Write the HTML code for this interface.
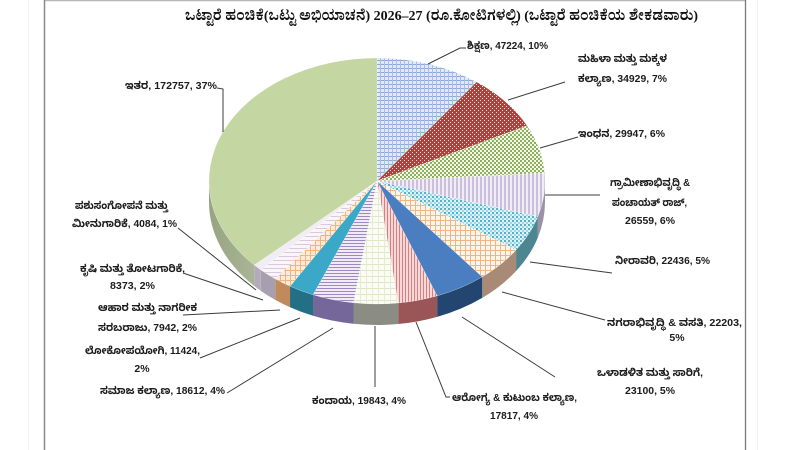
<!DOCTYPE html>
<html>
<head>
<meta charset="utf-8">
<style>
html,body{margin:0;padding:0;background:#ffffff;}
svg{display:block;}
.lbl{font-family:"Liberation Sans","Noto Sans Kannada","Lohit Kannada","Tunga","DejaVu Sans",sans-serif;font-weight:bold;font-size:10.5px;fill:#1c1c1c;}
.ttl{font-family:"Liberation Serif","Noto Serif Kannada","Noto Sans Kannada","Lohit Kannada","Tunga",serif;font-weight:bold;font-size:14px;fill:#111;}
.ld{fill:none;stroke:#3c3c3c;stroke-width:1;}
</style>
</head>
<body>
<svg width="800" height="450" viewBox="0 0 800 450" xmlns="http://www.w3.org/2000/svg">
<defs>
<pattern id="pEdu" patternUnits="userSpaceOnUse" width="4" height="4"><rect width="4" height="4" fill="#e2e9f5"/><rect width="4" height="1" fill="#8ea9d6"/><rect width="1" height="4" fill="#a9bde0"/></pattern>
<pattern id="pWom" patternUnits="userSpaceOnUse" width="4" height="4"><rect width="4" height="4" fill="#b4403d"/><rect x="0" y="0" width="1" height="1" fill="#f2d6d4"/><rect x="2" y="2" width="1" height="1" fill="#f2d6d4"/></pattern>
<pattern id="pEne" patternUnits="userSpaceOnUse" width="4" height="4"><rect width="4" height="4" fill="#f4f8ec"/><rect width="2" height="2" fill="#8fb05a"/><rect x="2" y="2" width="2" height="2" fill="#8fb05a"/></pattern>
<pattern id="pRur" patternUnits="userSpaceOnUse" width="4" height="4"><rect width="4" height="4" fill="#f1edf6"/><rect width="2" height="4" fill="#cbbfdc"/></pattern>
<pattern id="pIrr" patternUnits="userSpaceOnUse" width="4" height="4"><rect width="4" height="4" fill="#dff2f6"/><rect width="2" height="2" fill="#52b2cb"/><rect x="2" y="2" width="2" height="2" fill="#9fd6e4"/></pattern>
<pattern id="pUrb" patternUnits="userSpaceOnUse" width="5" height="5"><rect width="5" height="5" fill="#fdf4ea"/><rect width="5" height="1" fill="#eeb586"/><rect width="1" height="5" fill="#eeb586"/></pattern>
<pattern id="pHea" patternUnits="userSpaceOnUse" width="3" height="3"><rect width="3" height="3" fill="#f6d9d9"/><rect width="1" height="3" fill="#d97e7e"/></pattern>
<pattern id="pRev" patternUnits="userSpaceOnUse" width="6" height="6"><rect width="6" height="6" fill="#fbfcf4"/><rect width="6" height="1" fill="#dde5c6"/><rect width="1" height="6" fill="#e6ecd4"/></pattern>
<pattern id="pSoc" patternUnits="userSpaceOnUse" width="3" height="3"><rect width="3" height="3" fill="#f0ebf6"/><rect width="3" height="1" fill="#9d88c0"/></pattern>
<pattern id="pFoo" patternUnits="userSpaceOnUse" width="5" height="5"><rect width="5" height="5" fill="#fcecd9"/><rect width="5" height="1" fill="#f3b57c"/><rect width="1" height="5" fill="#f3b57c"/></pattern>
<pattern id="pAgr" patternUnits="userSpaceOnUse" width="4" height="4"><rect width="4" height="4" fill="#faf6f8"/><rect width="4" height="1" fill="#d9c9dc"/></pattern>
<linearGradient id="gOth" x1="0" y1="0" x2="1" y2="0">
<stop offset="0" stop-color="#97a483"/><stop offset="1" stop-color="#a9b594"/>
</linearGradient>
</defs>

<!-- frame -->
<rect x="0" y="0" width="800" height="450" fill="#ffffff"/>
<line x1="28.5" y1="0" x2="28.5" y2="450" stroke="#f3f3f3" stroke-width="1"/>
<line x1="757.5" y1="0" x2="757.5" y2="450" stroke="#f3f3f3" stroke-width="1"/>
<line x1="44" y1="0.6" x2="746" y2="0.6" stroke="#b8b8b8" stroke-width="1.2"/>
<line x1="44.5" y1="0" x2="44.5" y2="450" stroke="#8a8a8a" stroke-width="1.5"/>
<line x1="745.5" y1="0" x2="745.5" y2="450" stroke="#7a7a7a" stroke-width="1.3"/>

<!-- title -->
<text class="ttl" x="185" y="20" textLength="513" lengthAdjust="spacingAndGlyphs">ಒಟ್ಟಾರೆ ಹಂಚಿಕೆ(ಒಟ್ಟು ಅಭಿಯಾಚನೆ) 2026–27 (ರೂ.ಕೋಟಿಗಳಲ್ಲಿ)  (ಒಟ್ಟಾರೆ ಹಂಚಿಕೆಯ ಶೇಕಡವಾರು)</text>

<!-- sides -->
<g>
<path d="M545,181 A168,123 0 0 1 537.81,216.61 L537.81,237.61 A168,123 0 0 0 545,202 Z" fill="#9a92a8"/>
<path d="M537.81,216.61 A168,123 0 0 1 516.07,250 L516.07,271 A168,123 0 0 0 537.81,237.61 Z" fill="#4d8690"/>
<path d="M516.07,250 A168,123 0 0 1 482.2,276.9 L482.2,297.9 A168,123 0 0 0 516.07,271 Z" fill="#a88a76"/>
<path d="M482.2,276.9 A168,123 0 0 1 437.14,295.85 L437.14,316.85 A168,123 0 0 0 482.2,297.9 Z" fill="#22466f"/>
<path d="M437.14,295.85 A168,123 0 0 1 398.2,303.02 L398.2,324.02 A168,123 0 0 0 437.14,316.85 Z" fill="#9a5656"/>
<path d="M398.2,303.02 A168,123 0 0 1 353.5,302.79 L353.5,323.79 A168,123 0 0 0 398.2,324.02 Z" fill="#8b8c84"/>
<path d="M353.5,302.79 A168,123 0 0 1 313.04,294.74 L313.04,315.74 A168,123 0 0 0 353.5,323.79 Z" fill="#75679a"/>
<path d="M313.04,294.74 A168,123 0 0 1 290.03,286.24 L290.03,307.24 A168,123 0 0 0 313.04,315.74 Z" fill="#226f86"/>
<path d="M290.03,286.24 A168,123 0 0 1 275.19,278.85 L275.19,299.85 A168,123 0 0 0 290.03,307.24 Z" fill="#c08a5c"/>
<path d="M275.19,278.85 A168,123 0 0 1 260.83,269.86 L260.83,290.86 A168,123 0 0 0 275.19,299.85 Z" fill="#a79fb0"/>
<path d="M260.83,269.86 A168,123 0 0 1 254.33,265.05 L254.33,286.05 A168,123 0 0 0 260.83,290.86 Z" fill="#b3abbb"/>
<path d="M254.33,265.05 A168,123 0 0 1 209,181 L209,202 A168,123 0 0 0 254.33,286.05 Z" fill="url(#gOth)"/>
</g>

<!-- top faces -->
<g stroke="#ffffff" stroke-width="0.4" stroke-opacity="0.6">
<path d="M377,181 L377,58 A168,123 0 0 1 476.64,81.97 Z" fill="url(#pEdu)"/>
<path d="M377,181 L476.64,81.97 A168,123 0 0 1 527.09,125.74 Z" fill="url(#pWom)"/>
<path d="M377,181 L527.09,125.74 A168,123 0 0 1 544.66,173.21 Z" fill="url(#pEne)"/>
<path d="M377,181 L544.66,173.21 A168,123 0 0 1 537.81,216.61 Z" fill="url(#pRur)"/>
<path d="M377,181 L537.81,216.61 A168,123 0 0 1 516.07,250 Z" fill="url(#pIrr)"/>
<path d="M377,181 L516.07,250 A168,123 0 0 1 482.2,276.9 Z" fill="url(#pUrb)"/>
<path d="M377,181 L482.2,276.9 A168,123 0 0 1 437.14,295.85 Z" fill="#4a7ec0"/>
<path d="M377,181 L437.14,295.85 A168,123 0 0 1 398.2,303.02 Z" fill="url(#pHea)"/>
<path d="M377,181 L398.2,303.02 A168,123 0 0 1 353.5,302.79 Z" fill="url(#pRev)"/>
<path d="M377,181 L353.5,302.79 A168,123 0 0 1 313.04,294.74 Z" fill="url(#pSoc)"/>
<path d="M377,181 L313.04,294.74 A168,123 0 0 1 290.03,286.24 Z" fill="#3aa8c6"/>
<path d="M377,181 L290.03,286.24 A168,123 0 0 1 275.19,278.85 Z" fill="url(#pFoo)"/>
<path d="M377,181 L275.19,278.85 A168,123 0 0 1 260.83,269.86 Z" fill="url(#pAgr)"/>
<path d="M377,181 L260.83,269.86 A168,123 0 0 1 254.33,265.05 Z" fill="#f1edf4"/>
<path d="M377,181 L254.33,265.05 A168,123 0 0 1 377,58 Z" fill="#c4d6a2"/>
</g>

<!-- leader lines -->
<g class="ld">
<polyline points="428,64 460,48 466,48"/>
<polyline points="508,100 565,82"/>
<polyline points="540,148 578,137"/>
<polyline points="545,195 600,195"/>
<polyline points="530,262 612,273"/>
<polyline points="502,292 605,320"/>
<polyline points="462,317 555,377"/>
<polyline points="416,322 446,397 450,397"/>
<polyline points="375,326 375,387"/>
<polyline points="333,328 227,393"/>
<polyline points="300,318 200,358"/>
<polyline points="280,310 183,315"/>
<polyline points="263,300 183,273"/>
<polyline points="256,290 178,228"/>
<polyline points="217,88 223,89 223,132"/>
</g>

<!-- labels -->
<g class="lbl">
<text x="467" y="49" textLength="81" lengthAdjust="spacingAndGlyphs">ಶಿಕ್ಷಣ, 47224, 10%</text>

<text x="578" y="62" textLength="89" lengthAdjust="spacingAndGlyphs">ಮಹಿಳಾ ಮತ್ತು ಮಕ್ಕಳ</text>
<text x="578" y="82" textLength="89" lengthAdjust="spacingAndGlyphs">ಕಲ್ಯಾಣ, 34929, 7%</text>

<text x="578" y="137" textLength="87" lengthAdjust="spacingAndGlyphs">ಇಂಧನ, 29947, 6%</text>

<text x="610" y="186" textLength="80" lengthAdjust="spacingAndGlyphs">ಗ್ರಾಮೀಣಾಭಿವೃದ್ಧಿ &amp;</text>
<text x="612" y="206" textLength="75" lengthAdjust="spacingAndGlyphs">ಪಂಚಾಯತ್ ರಾಜ್,</text>
<text x="625" y="224" textLength="50" lengthAdjust="spacingAndGlyphs">26559, 6%</text>

<text x="615" y="264" textLength="95" lengthAdjust="spacingAndGlyphs">ನೀರಾವರಿ, 22436, 5%</text>

<text x="607" y="326" textLength="135" lengthAdjust="spacingAndGlyphs">ನಗರಾಭಿವೃದ್ಧಿ &amp; ವಸತಿ, 22203,</text>
<text x="677" y="341" text-anchor="middle">5%</text>

<text x="597" y="376" textLength="106" lengthAdjust="spacingAndGlyphs">ಒಳಾಡಳಿತ ಮತ್ತು ಸಾರಿಗೆ,</text>
<text x="625" y="394" textLength="50" lengthAdjust="spacingAndGlyphs">23100, 5%</text>

<text x="452" y="401" textLength="125" lengthAdjust="spacingAndGlyphs">ಆರೋಗ್ಯ &amp; ಕುಟುಂಬ ಕಲ್ಯಾಣ,</text>
<text x="490" y="419" textLength="48" lengthAdjust="spacingAndGlyphs">17817, 4%</text>

<text x="312" y="404" textLength="94" lengthAdjust="spacingAndGlyphs">ಕಂದಾಯ, 19843, 4%</text>

<text x="100" y="394" textLength="125" lengthAdjust="spacingAndGlyphs">ಸಮಾಜ ಕಲ್ಯಾಣ, 18612, 4%</text>

<text x="85" y="354" textLength="115" lengthAdjust="spacingAndGlyphs">ಲೋಕೋಪಯೋಗಿ, 11424,</text>
<text x="142" y="372" text-anchor="middle">2%</text>

<text x="98" y="311" textLength="99" lengthAdjust="spacingAndGlyphs">ಆಹಾರ ಮತ್ತು ನಾಗರೀಕ</text>
<text x="98" y="331" textLength="99" lengthAdjust="spacingAndGlyphs">ಸರಬರಾಜು, 7942, 2%</text>

<text x="80" y="272" textLength="105" lengthAdjust="spacingAndGlyphs">ಕೃಷಿ ಮತ್ತು ತೋಟಗಾರಿಕೆ,</text>
<text x="110" y="289" textLength="45" lengthAdjust="spacingAndGlyphs">8373, 2%</text>

<text x="75" y="209" textLength="93" lengthAdjust="spacingAndGlyphs">ಪಶುಸಂಗೋಪನೆ ಮತ್ತು</text>
<text x="72" y="227" textLength="105" lengthAdjust="spacingAndGlyphs">ಮೀನುಗಾರಿಕೆ, 4084, 1%</text>

<text x="125" y="89" textLength="92" lengthAdjust="spacingAndGlyphs">ಇತರ, 172757, 37%</text>
</g>
</svg>
</body>
</html>
